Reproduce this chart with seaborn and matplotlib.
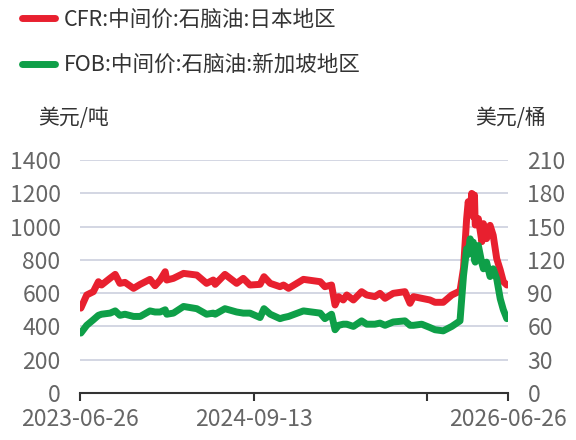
import pandas as pd
import matplotlib.pyplot as plt
import seaborn as sns

# values
dates = ["2023-06-28", "2023-07-13", "2023-07-30", "2023-08-12", "2023-08-20", "2023-09-11",
         "2023-09-24", "2023-10-06", "2023-10-19", "2023-11-10", "2023-11-27", "2023-12-22",
         "2024-01-04", "2024-01-17", "2024-01-30", "2024-02-03", "2024-02-20", "2024-03-17",
         "2024-04-20", "2024-05-15", "2024-06-01", "2024-06-06", "2024-07-01", "2024-07-31",
         "2024-08-17", "2024-09-03", "2024-09-29", "2024-10-09", "2024-10-25", "2024-11-19",
         "2024-11-28", "2024-12-11", "2025-01-18", "2025-03-02", "2025-03-14", "2025-03-31",
         "2025-04-09", "2025-04-18", "2025-04-30", "2025-05-09", "2025-05-26", "2025-06-16",
         "2025-06-29", "2025-07-20", "2025-08-02", "2025-08-15", "2025-09-05", "2025-10-05",
         "2025-10-18", "2025-10-27", "2025-11-17", "2025-12-08", "2025-12-21", "2026-01-11",
         "2026-02-02", "2026-02-23", "2026-03-04", "2026-03-12", "2026-03-16", "2026-03-21",
         "2026-03-25", "2026-03-29", "2026-04-01", "2026-04-03", "2026-04-11", "2026-04-20",
         "2026-04-24", "2026-05-02", "2026-05-11", "2026-05-19", "2026-05-28", "2026-06-06",
         "2026-06-14", "2026-06-23"]
cfr_japan = [510, 589, 609, 669, 649, 690,
             713, 659, 665, 629, 653, 683,
             645, 679, 729, 679, 689, 719,
             709, 659, 679, 653, 713, 659,
             689, 649, 653, 699, 659, 639,
             649, 629, 683, 669, 639, 649,
             529, 579, 559, 589, 559, 609,
             589, 579, 599, 569, 599, 609,
             539, 579, 569, 559, 545, 545,
             589, 613, 750, 1048, 1150, 1080,
             1200, 1060, 1190, 1010, 1048, 910,
             1018, 928, 1008, 948, 808, 740,
             669, 649]
fob_singapore = [54, 61, 66, 70, 71, 72,
                 74, 70, 71, 69, 69, 74,
                 73, 73, 75, 71, 72, 78,
                 76, 71, 72, 71, 76, 73,
                 72, 72, 68, 76, 71, 67,
                 68, 69, 74, 72, 67, 71,
                 57, 61, 62, 62, 60, 65,
                 62, 62, 63, 61, 64, 65,
                 61, 61, 62, 59, 57, 56,
                 60, 65, 106, 130, 125, 139,
                 128, 136, 120, 118, 133, 117,
                 112, 118, 105, 112, 103, 85,
                 75, 67]
tick_dates = ["2023-06-26", "2024-09-13", "2025-12-01", "2026-06-26"]
tick_labels = ["2023-06-26", "2024-09-13", "", "2026-06-26"]
cfr_name = "CFR:中间价:石脑油:日本地区"
fob_name = "FOB:中间价:石脑油:新加坡地区"

sns.set_theme(style="white")
plt.rcParams['font.family'] = ['Noto Sans CJK SC', 'DejaVu Sans']

df = pd.DataFrame({"date": pd.to_datetime(dates), "cfr": cfr_japan, "fob": fob_singapore})

red = "#e8202f"
green = "#0e9f48"
grey = "#666666"

fig = plt.figure(figsize=(5.76, 4.4), dpi=100)
ax = fig.add_axes([0.139, 0.107, 0.743, 0.529])
ax2 = ax.twinx()

sns.lineplot(data=df, x="date", y="cfr", ax=ax, color=red, lw=2.4, label=cfr_name, legend=False)
sns.lineplot(data=df, x="date", y="fob", ax=ax2, color=green, lw=2.4, label=fob_name, legend=False)

ax.set_ylim(0, 1400)
ax2.set_ylim(0, 210)
ax.set_yticks(range(0, 1401, 200))
ax2.set_yticks(range(0, 211, 30))
ax.set_xlim(pd.Timestamp("2023-06-26"), pd.Timestamp("2026-06-26"))
ax.set_xticks(pd.to_datetime(tick_dates))
ax.set_xticklabels(tick_labels)
ax.set_xlabel("")
ax.set_ylabel("")
ax2.set_ylabel("")

ax.yaxis.grid(True, color="#d3d6e3", lw=1.4)
ax.set_axisbelow(True)

for a in (ax, ax2):
    for s in ("left", "right", "top", "bottom"):
        a.spines[s].set_visible(False)
ax.spines["bottom"].set_visible(True)
ax.spines["bottom"].set_color("#333333")
ax.spines["bottom"].set_linewidth(1.5)

ax.tick_params(axis="x", bottom=True, length=6, width=1.5, color="#333333",
               labelsize=16.5, labelcolor=grey, pad=5)
ax.tick_params(axis="y", left=False, labelsize=16.5, labelcolor=grey, pad=8)
ax2.tick_params(axis="y", right=False, labelsize=16.5, labelcolor=grey, pad=8)

fig.text(38 / 576, 1 - 118 / 440, "美元/吨", fontsize=15, color="#333333", va="center")
fig.text(546 / 576, 1 - 118 / 440, "美元/桶", fontsize=15, color="#333333", va="center", ha="right")

h1, l1 = ax.get_legend_handles_labels()
h2, l2 = ax2.get_legend_handles_labels()
for h in h1 + h2:
    h.set_linewidth(5)
fig.legend(h1 + h2, l1 + l2, loc="upper left", bbox_to_anchor=(0.005, 1.025), frameon=False,
           fontsize=15.5, handlelength=1.5, handletextpad=0.45, labelspacing=1.1,
           labelcolor="#333333")

fig.savefig("out.png", dpi=100)
